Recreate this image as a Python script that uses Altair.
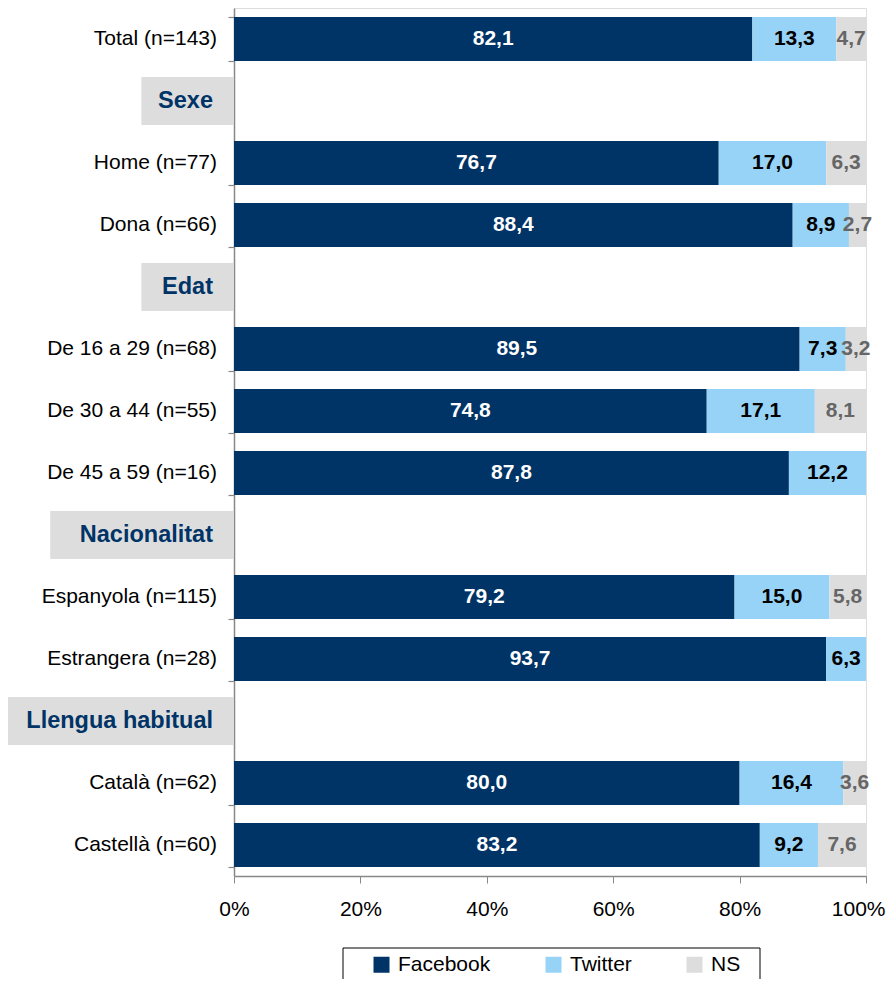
import altair as alt
import pandas as pd

# ---- data ----
rows = ["Total (n=143)", "Sexe", "Home (n=77)", "Dona (n=66)", "Edat",
        "De 16 a 29 (n=68)", "De 30 a 44 (n=55)", "De 45 a 59 (n=16)",
        "Nacionalitat", "Espanyola (n=115)", "Estrangera (n=28)",
        "Llengua habitual", "Català (n=62)", "Castellà (n=60)"]
headers = ["Sexe", "Edat", "Nacionalitat", "Llengua habitual"]

groups = ["Total (n=143)", "Home (n=77)", "Dona (n=66)",
          "De 16 a 29 (n=68)", "De 30 a 44 (n=55)", "De 45 a 59 (n=16)",
          "Espanyola (n=115)", "Estrangera (n=28)",
          "Català (n=62)", "Castellà (n=60)"]
facebook = [82.1, 76.7, 88.4, 89.5, 74.8, 87.8, 79.2, 93.7, 80.0, 83.2]
twitter = [13.3, 17.0, 8.9, 7.3, 17.1, 12.2, 15.0, 6.3, 16.4, 9.2]
ns = [4.7, 6.3, 2.7, 3.2, 8.1, 0.0, 5.8, 0.0, 3.6, 7.6]

series = ["Facebook", "Twitter", "NS"]
colors = ["#003366", "#97D3F6", "#DDDDDD"]
label_colors = ["#FFFFFF", "#000000", "#666666"]

recs = []
for g, f, t, n in zip(groups, facebook, twitter, ns):
    for i, (s, v) in enumerate(zip(series, [f, t, n])):
        if v > 0:
            recs.append({"row": g, "serie": s, "value": v, "order": i})
bars_df = pd.DataFrame(recs)
labels_df = pd.DataFrame({"row": rows,
                          "kind": ["header" if r in headers else "group" for r in rows]})

FONT = "Liberation Sans"
W, H = 632, 868

y_enc = alt.Y("row:N", sort=rows,
              scale=alt.Scale(domain=rows, paddingInner=0.29, paddingOuter=0.145),
              axis=alt.Axis(labels=False, title=None, tickBand="extent",
                            tickSize=6, tickColor="#888888", domainColor="#888888",
                            domainWidth=1.5, tickWidth=1.2))

x_scale = alt.Scale(domain=[0, 1], nice=False)

base = alt.Chart(bars_df).transform_stack(
    stack="value", groupby=["row"], as_=["x0", "x1"],
    offset="normalize", sort=[alt.SortField("order", order="ascending")]
)

bars = base.mark_bar().encode(
    x=alt.X("x0:Q", scale=x_scale,
            axis=alt.Axis(values=[0, 0.2, 0.4, 0.6, 0.8, 1.0], format=".0%",
                          title=None, grid=False, tickSize=7, tickColor="#888888",
                          domainColor="#888888", domainWidth=1.5, labelPadding=15,
                          labelFlush=False,
                          labelAlign={"condition": {"test": "datum.value >= 1", "value": "right"},
                                      "value": "center"},
                          labelOffset={"condition": {"test": "datum.value >= 1", "value": 19},
                                       "value": 0},
                          labelFontSize=21, labelColor="#000000", labelFont=FONT)),
    x2="x1:Q",
    y=y_enc,
    color=alt.Color("serie:N", sort=series,
                    scale=alt.Scale(domain=series, range=colors),
                    legend=alt.Legend(title=None, orient="none", legendX=137, legendY=946,
                                      direction="horizontal", symbolType="square",
                                      symbolSize=256, symbolStrokeWidth=0,
                                      labelFontSize=21, labelFont=FONT, labelColor="#000000",
                                      columnPadding=52, labelOffset=6, padding=0)),
)

values_txt = base.transform_calculate(
    mid="(datum.x0 + datum.x1) / 2",
    txt="replace(format(datum.value, '.1f'), '.', ',')"
).mark_text(font=FONT, fontSize=21, fontWeight="bold", baseline="middle").encode(
    x=alt.X("mid:Q", scale=x_scale),
    y=alt.Y("row:N", sort=rows),
    text="txt:N",
    color=alt.Color("serie:N", scale=alt.Scale(domain=series, range=label_colors), legend=None),
)

lab_base = alt.Chart(labels_df)

header_boxes = lab_base.transform_filter(alt.datum.kind == "header").transform_calculate(
    bx="-(47 + 11.4 * length(datum.row)) / %d" % W, zero="0"
).mark_bar(height=48, color="#DDDDDD").encode(
    x=alt.X("bx:Q", scale=x_scale), x2="zero:Q", y=alt.Y("row:N", sort=rows)
)

header_txt = lab_base.transform_filter(alt.datum.kind == "header").mark_text(
    font=FONT, fontSize=23.5, fontWeight="bold", color="#003366", align="right", baseline="middle"
).encode(x=alt.value(-21), y=alt.Y("row:N", sort=rows), text="row:N")

group_txt = lab_base.transform_filter(alt.datum.kind == "group").mark_text(
    font=FONT, fontSize=21, color="#000000", align="right", baseline="middle"
).encode(x=alt.value(-17), y=alt.Y("row:N", sort=rows), text="row:N")

frame = alt.Chart(pd.DataFrame({"k": [0]})).mark_rect(
    fill="transparent", stroke="#000000", strokeWidth=1
).encode(x=alt.value(109), x2=alt.value(526), y=alt.value(940), y2=alt.value(1010))

chart = alt.layer(header_boxes, bars, values_txt, header_txt, group_txt, frame).resolve_scale(
    color="independent"
).properties(
    width=W, height=H,
    autosize=alt.AutoSizeParams(type="none"),
    padding={"left": 226, "top": 0, "right": 20, "bottom": 103},
).configure_view(stroke=None).configure(background="white")

chart.save("out.html", embed_options={"renderer": "svg", "actions": False})
